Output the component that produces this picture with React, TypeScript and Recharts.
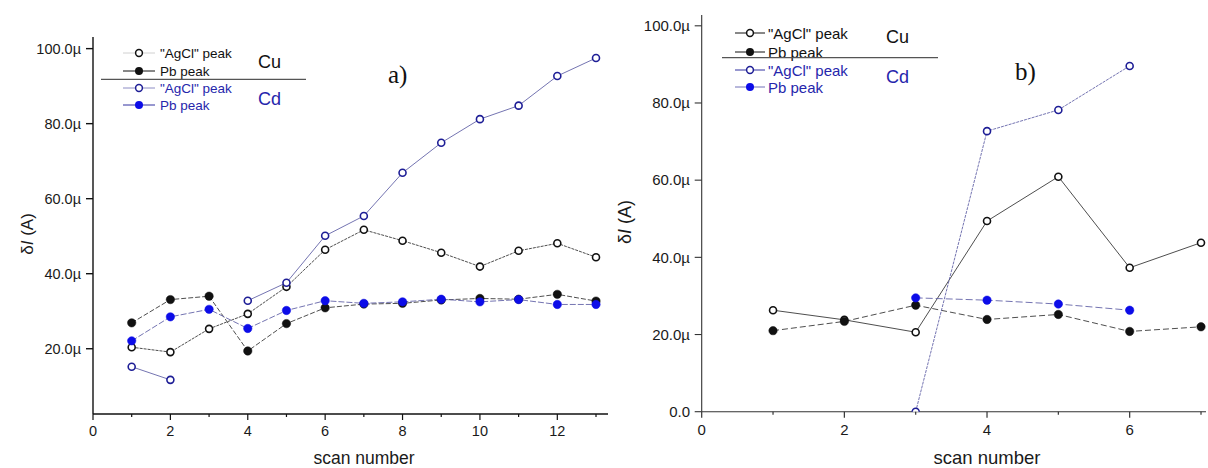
import { LineChart, Line, XAxis, YAxis } from 'recharts';

// scan numbers and peak currents (µA), panel a)
const scansA = [1, 2, 3, 4, 5, 6, 7, 8, 9, 10, 11, 12, 13];
const cuAgclA = [20.4, 19.1, 25.3, 29.3, 36.5, 46.4, 51.7, 48.8, 45.6, 41.9, 46.1, 48.1, 44.4];
const cuPbA = [26.9, 33.1, 34.0, 19.4, 26.7, 30.9, 31.9, 32.1, 33.0, 33.4, 33.2, 34.5, 32.7];
const cdAgclA = [15.2, 11.7, null, 32.8, 37.6, 50.1, 55.4, 66.9, 74.9, 81.2, 84.8, 92.7, 97.5];
const cdPbA = [22.1, 28.5, 30.5, 25.4, 30.2, 32.8, 32.1, 32.5, 33.2, 32.5, 33.1, 31.8, 31.8];

// panel b)
const scansB = [1, 2, 3, 4, 5, 6, 7];
const cuAgclB = [26.3, 23.8, 20.6, 49.4, 60.9, 37.3, 43.8];
const cuPbB = [21.0, 23.4, 27.6, 23.9, 25.2, 20.8, 22.0];
const cdAgclB = [null, null, 0, 72.7, 78.2, 89.6, null];
const cdPbB = [null, null, 29.5, 28.9, 27.9, 26.3, null];

const xTicksA = [0, 1, 2, 3, 4, 5, 6, 7, 8, 9, 10, 11, 12, 13];
const xTicksB = [0, 1, 2, 3, 4, 5, 6, 7];
const yTicksA = [20, 40, 60, 80, 100];
const yTicksB = [0, 20, 40, 60, 80, 100];

const legendLabels = ['"AgCl" peak', 'Pb peak', '"AgCl" peak', 'Pb peak'];
const metalLabels = ['Cu', 'Cd'];

const SANS = '"Liberation Sans", Arial, sans-serif';
const SERIF = '"Liberation Serif", "DejaVu Serif", serif';
const BLACK = '#111';
const BLUE_FILL = '#0c0ce8';
const BLUE_RING = '#1e1e96';
const BLUE_LINE = '#6464a8';
const BLUE_TEXT = '#2626ac';
const GREY_LINE = '#3a3a3a';

type Row = { scan: number; cuAgcl: number | null; cuPb: number | null; cdAgcl: number | null; cdPb: number | null };

const rowsA: Row[] = scansA.map((scan, i) => ({
  scan, cuAgcl: cuAgclA[i], cuPb: cuPbA[i], cdAgcl: cdAgclA[i], cdPb: cdPbA[i],
}));
const rowsB: Row[] = scansB.map((scan, i) => ({
  scan, cuAgcl: cuAgclB[i], cuPb: cuPbB[i], cdAgcl: cdAgclB[i], cdPb: cdPbB[i],
}));

const fmtY = (v: number) => (v === 0 ? '0.0' : `${v.toFixed(1)}µ`);

// x ticks: long marks + labels on even scans, short marks on odd ones
const makeXTick = (fontSize: number, color: string, labelGap: number) => (props: any) => {
  const { x, y, payload } = props;
  const major = payload.value % 2 === 0;
  return (
    <g>
      <line x1={x} x2={x} y1={y} y2={y + (major ? 6 : 3)} stroke={color} strokeWidth={1.2} />
      {major && (
        <text x={x} y={y + labelGap} textAnchor="middle" dy="0.71em" fontSize={fontSize}
          fontFamily={SANS} fill="#1a1a1a">
          {payload.value}
        </text>
      )}
    </g>
  );
};

const yLabel = (cx: number, cy: number, size: number) => () => (
  <text x={cx} y={cy} transform={`rotate(-90 ${cx} ${cy})`} textAnchor="middle"
    dominantBaseline="central" fontSize={size} fontFamily={SANS} fill="#1a1a1a">
    δ<tspan fontStyle="italic">I</tspan> (A)
  </text>
);

const xLabel = (cx: number, cy: number, size: number) => () => (
  <text x={cx} y={cy} textAnchor="middle" dominantBaseline="central" fontSize={size}
    fontFamily={SANS} fill="#1a1a1a">
    scan number
  </text>
);

// markers stay solid even on dashed lines
const openDot = (stroke: string) => ({ r: 3.5, fill: '#fff', stroke, strokeWidth: 1.6, strokeDasharray: 'none' });
const fullDot = (fill: string) => ({ r: 4.2, fill, stroke: fill, strokeWidth: 0.5, strokeDasharray: 'none' });

function Marker({ x, y, filled, color }: { x: number; y: number; filled: boolean; color: string }) {
  return filled
    ? <circle cx={x} cy={y} r={4} fill={color} />
    : <circle cx={x} cy={y} r={3.4} fill="#fff" stroke={color} strokeWidth={1.5} />;
}

type LegendProps = {
  rows: number[]; lineX: [number, number]; textX: number; fontSize: number;
  lineColors: string[]; sep: [number, number, number]; metalX: number; metalY: [number, number];
  metalSize: number;
};

function PanelLegend(p: LegendProps) {
  const markColors = [BLACK, BLACK, BLUE_RING, BLUE_FILL];
  const textColors = [BLACK, BLACK, BLUE_TEXT, BLUE_TEXT];
  const mid = (p.lineX[0] + p.lineX[1]) / 2;
  return (
    <g fontFamily={SANS}>
      {legendLabels.map((label, i) => (
        <g key={i}>
          <line x1={p.lineX[0]} x2={p.lineX[1]} y1={p.rows[i]} y2={p.rows[i]} stroke={p.lineColors[i]} strokeWidth={1} />
          <Marker x={mid} y={p.rows[i]} filled={i % 2 === 1} color={markColors[i]} />
          <text x={p.textX} y={p.rows[i]} dominantBaseline="central" fontSize={p.fontSize} fill={textColors[i]}>
            {label}
          </text>
        </g>
      ))}
      <line x1={p.sep[0]} x2={p.sep[1]} y1={p.sep[2]} y2={p.sep[2]} stroke="#555" strokeWidth={1.2} />
      {metalLabels.map((m, i) => (
        <text key={m} x={p.metalX} y={p.metalY[i]} dominantBaseline="central" fontSize={p.metalSize}
          fill={i === 0 ? BLACK : BLUE_TEXT}>
          {m}
        </text>
      ))}
    </g>
  );
}

export default function App() {
  return (
    <div style={{ position: 'absolute', left: 0, top: 0, width: 1208, height: 468, background: '#fff', overflow: 'hidden' }}>
      {/* panel a) */}
      <div style={{ position: 'absolute', left: 0, top: 0 }}>
        <LineChart width={620} height={468} data={rowsA} margin={{ top: 37, right: 12, bottom: 24, left: 33 }}>
          <XAxis dataKey="scan" type="number" domain={[0, 13.31]} ticks={xTicksA} interval={0}
            allowDataOverflow height={30} tickSize={0} tickMargin={0} tickLine={false}
            stroke={BLACK} strokeWidth={1.4} tick={makeXTick(14.5, BLACK, 12)}
            label={xLabel(364, 458, 17.5)} />
          <YAxis type="number" domain={[2.6, 103.1]} ticks={yTicksA} allowDataOverflow width={60}
            tickSize={7} tickMargin={5} tickFormatter={fmtY} stroke={BLACK} strokeWidth={1.4}
            tick={{ fontSize: 14.5, fontFamily: SANS, fill: '#1a1a1a' }} label={yLabel(27, 234, 17)} />
          <Line dataKey="cuAgcl" stroke={GREY_LINE} strokeWidth={0.9} strokeDasharray="3 1"
            dot={openDot(BLACK)} isAnimationActive={false} />
          <Line dataKey="cuPb" stroke={GREY_LINE} strokeWidth={0.9} strokeDasharray="5 2"
            dot={fullDot(BLACK)} isAnimationActive={false} />
          <Line dataKey="cdAgcl" stroke={BLUE_LINE} strokeWidth={0.9} connectNulls={false}
            dot={openDot(BLUE_RING)} isAnimationActive={false} />
          <Line dataKey="cdPb" stroke={BLUE_LINE} strokeWidth={0.9} strokeDasharray="6 2"
            dot={fullDot(BLUE_FILL)} isAnimationActive={false} />
        </LineChart>
        <svg width={620} height={468} style={{ position: 'absolute', left: 0, top: 0, pointerEvents: 'none' }}>
          <PanelLegend rows={[53, 71, 88, 105]} lineX={[123, 155]} textX={160} fontSize={13.5}
            lineColors={['#d0d0d0', BLACK, '#8c8cc4', '#3030a0']} sep={[101, 306, 79.3]}
            metalX={258} metalY={[62, 99]} metalSize={18} />
          <text x={388} y={74} dominantBaseline="central" fontSize={25} fontFamily={SERIF} fill="#111">a)</text>
        </svg>
      </div>

      {/* panel b) */}
      <div style={{ position: 'absolute', left: 610, top: 0 }}>
        <LineChart width={598} height={468} data={rowsB} margin={{ top: 15, right: 2, bottom: 26.3, left: 31.7 }}>
          <XAxis dataKey="scan" type="number" domain={[0, 7.07]} ticks={xTicksB} interval={0}
            allowDataOverflow height={30} tickSize={0} tickMargin={0} tickLine={false}
            stroke="#333" strokeWidth={1.1} tick={makeXTick(15, '#333', 12.5)}
            label={xLabel(377, 457, 18.5)} />
          <YAxis type="number" domain={[0, 102.8]} ticks={yTicksB} allowDataOverflow width={60}
            tickSize={7} tickMargin={4.7} tickFormatter={fmtY} stroke="#333" strokeWidth={1.1}
            tick={{ fontSize: 15, fontFamily: SANS, fill: '#1a1a1a' }} label={yLabel(15, 222, 18)} />
          <Line dataKey="cuAgcl" stroke={GREY_LINE} strokeWidth={0.9}
            dot={openDot(BLACK)} isAnimationActive={false} />
          <Line dataKey="cuPb" stroke={GREY_LINE} strokeWidth={0.9} strokeDasharray="6 3"
            dot={fullDot(BLACK)} isAnimationActive={false} />
          <Line dataKey="cdAgcl" stroke={BLUE_LINE} strokeWidth={0.9} strokeDasharray="3 1"
            dot={openDot(BLUE_RING)} isAnimationActive={false} />
          <Line dataKey="cdPb" stroke={BLUE_LINE} strokeWidth={0.9} strokeDasharray="7 3"
            dot={fullDot(BLUE_FILL)} isAnimationActive={false} />
        </LineChart>
        <svg width={598} height={468} style={{ position: 'absolute', left: 0, top: 0, pointerEvents: 'none' }}>
          <PanelLegend rows={[33, 52, 70, 87]} lineX={[125, 155]} textX={158} fontSize={15}
            lineColors={[BLACK, BLACK, '#3030a0', '#7070b8']} sep={[112, 328, 57.7]}
            metalX={276} metalY={[36.7, 76.7]} metalSize={18} />
          <text x={405} y={71} dominantBaseline="central" fontSize={25} fontFamily={SERIF} fill="#111">b)</text>
        </svg>
      </div>
    </div>
  );
}
